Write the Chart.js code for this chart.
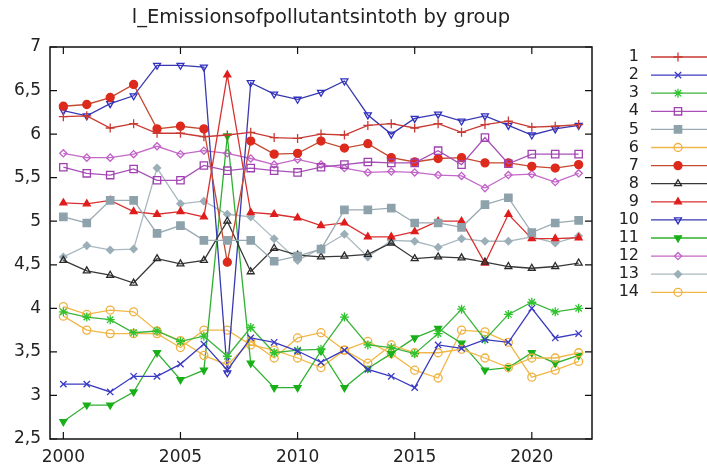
<!DOCTYPE html>
<html>
<head>
<meta charset="utf-8">
<script src="https://cdn.jsdelivr.net/npm/chart.js@4/dist/chart.umd.min.js"></script>
<style>
  html, body { margin: 0; padding: 0; background: #ffffff; }
  #wrap { width: 707px; height: 466px; }
</style>
</head>
<body>
<div id="wrap"><canvas id="c" width="707" height="466"></canvas></div>
<script>
// Years on the x axis
const years = [2000,2001,2002,2003,2004,2005,2006,2007,2008,2009,2010,2011,2012,2013,2014,2015,2016,2017,2018,2019,2020,2021,2022];
const groupNames = ['1','2','3','4','5','6','7','8','9','10','11','12','13','14'];
const xTickValues = [2000, 2005, 2010, 2015, 2020];
const yTickValues = [2.5, 3, 3.5, 4, 4.5, 5, 5.5, 6, 6.5, 7];

// Values per group, one per year
const g1  = [6.20,6.21,6.07,6.12,6.01,6.01,5.97,5.99,6.02,5.96,5.95,6.00,5.99,6.10,6.12,6.07,6.12,6.02,6.11,6.15,6.08,6.09,6.11];
const g2  = [3.13,3.13,3.04,3.22,3.22,3.36,3.59,3.29,3.66,3.61,3.51,3.38,3.52,3.30,3.22,3.09,3.58,3.54,3.64,3.61,4.00,3.66,3.71];
const g3  = [3.96,3.90,3.87,3.72,3.74,3.62,3.68,3.45,3.78,3.49,3.52,3.53,3.90,3.58,3.55,3.48,3.71,3.99,3.64,3.93,4.07,3.96,4.00];
const g4  = [5.62,5.55,5.53,5.60,5.47,5.47,5.64,5.58,5.61,5.58,5.56,5.62,5.65,5.68,5.67,5.67,5.81,5.65,5.96,5.66,5.77,5.77,5.77];
const g5  = [5.05,4.98,5.24,5.24,4.86,4.95,4.78,4.78,4.78,4.54,4.60,4.68,5.13,5.13,5.15,4.98,4.98,4.93,5.19,5.27,4.87,4.98,5.01];
const g6  = [4.02,3.93,3.98,3.96,3.74,3.63,3.46,3.35,3.62,3.43,3.66,3.72,3.52,3.37,3.58,3.49,3.49,3.53,3.43,3.32,3.43,3.43,3.49];
const g7  = [6.32,6.34,6.42,6.57,6.06,6.09,6.06,4.53,5.92,5.77,5.78,5.92,5.84,5.89,5.73,5.68,5.72,5.73,5.67,5.67,5.63,5.61,5.65];
const g8  = [4.55,4.43,4.38,4.29,4.57,4.51,4.55,5.00,4.42,4.69,4.61,4.59,4.60,4.62,4.75,4.57,4.59,4.58,4.53,4.48,4.46,4.48,4.52];
const g9  = [5.21,5.20,5.24,5.11,5.08,5.11,5.05,6.68,5.10,5.08,5.04,4.95,4.98,4.82,4.82,4.88,5.00,5.00,4.52,5.08,4.80,4.80,4.81];
const g10 = [6.27,6.21,6.35,6.44,6.79,6.79,6.77,3.26,6.59,6.46,6.40,6.48,6.61,6.22,6.00,6.18,6.23,6.15,6.21,6.10,5.99,6.06,6.10];
const g11 = [2.70,2.89,2.89,3.04,3.49,3.18,3.29,5.98,3.37,3.09,3.09,3.51,3.09,3.31,3.48,3.66,3.77,3.60,3.29,3.32,3.49,3.37,3.46];
const g12 = [5.78,5.73,5.73,5.77,5.86,5.77,5.81,5.78,5.72,5.65,5.71,5.65,5.61,5.56,5.57,5.56,5.53,5.52,5.38,5.53,5.54,5.45,5.55];
const g13 = [4.59,4.72,4.67,4.68,5.61,5.20,5.23,5.08,5.05,4.80,4.55,4.69,4.85,4.59,4.78,4.77,4.70,4.80,4.77,4.77,4.82,4.75,4.83];
const g14 = [3.91,3.75,3.71,3.71,3.71,3.55,3.75,3.75,3.58,3.52,3.43,3.32,3.52,3.62,3.48,3.29,3.20,3.75,3.73,3.61,3.21,3.29,3.39];

const groupValues = [g1,g2,g3,g4,g5,g6,g7,g8,g9,g10,g11,g12,g13,g14];

// Line colour, marker colour, marker shape and fill per group
const styles = [
  { line: '#c83a32', mark: '#c83a32', shape: 'cross',    r: 4.5, fill: false, rot: 0 },
  { line: '#3a3ac0', mark: '#3a3ac8', shape: 'crossRot', r: 4.5, fill: false, rot: 0 },
  { line: '#3cb43c', mark: '#2ec42e', shape: 'star',     r: 4.5, fill: false, rot: 0 },
  { line: '#a850b8', mark: '#a040b0', shape: 'rect',     r: 5.2, fill: false, rot: 0 },
  { line: '#9aaab2', mark: '#8ea2ac', shape: 'rect',     r: 5.2, fill: true,  rot: 0 },
  { line: '#f0b848', mark: '#f0b040', shape: 'circle',   r: 4,   fill: false, rot: 0 },
  { line: '#c44a30', mark: '#dd2a1c', shape: 'circle',   r: 4,   fill: true,  rot: 0 },
  { line: '#383838', mark: '#2a2a2a', shape: 'triangle', r: 4,   fill: false, rot: 0 },
  { line: '#d83030', mark: '#e01c1c', shape: 'triangle', r: 4,   fill: true,  rot: 0 },
  { line: '#3838b0', mark: '#3030c0', shape: 'triangle', r: 4,   fill: false, rot: 180 },
  { line: '#30b030', mark: '#18b018', shape: 'triangle', r: 4,   fill: true,  rot: 180 },
  { line: '#c468c8', mark: '#c060c8', shape: 'rectRot',  r: 3.6, fill: false, rot: 0 },
  { line: '#a8b8c0', mark: '#9cafb8', shape: 'rectRot',  r: 3.6, fill: true,  rot: 0 },
  { line: '#f0b848', mark: '#f0b040', shape: 'circle',   r: 4,   fill: false, rot: 0 }
];

const datasets = groupNames.map((name, i) => {
  const st = styles[i];
  return {
    label: name,
    data: years.map((yr, k) => ({ x: yr, y: groupValues[i][k] })),
    borderColor: st.line,
    borderWidth: 1.3,
    pointStyle: st.shape,
    pointRadius: st.r,
    pointRotation: st.rot,
    pointBorderColor: st.mark,
    pointBorderWidth: 1.3,
    pointBackgroundColor: st.fill ? st.mark : 'rgba(0,0,0,0)',
    tension: 0,
    fill: false
  };
});

const FONT = 'DejaVu Sans';

// Box around the plot with inward tick marks on all four sides
const framePlugin = {
  id: 'frame',
  afterDatasetsDraw(chart) {
    const { ctx, chartArea: a, scales } = chart;
    ctx.save();
    ctx.strokeStyle = '#111';
    ctx.lineWidth = 1.5;
    ctx.strokeRect(a.left, a.top, a.right - a.left, a.bottom - a.top);
    ctx.lineWidth = 1.2;
    const len = 7;
    ctx.beginPath();
    xTickValues.forEach(v => {
      const px = scales.x.getPixelForValue(v);
      ctx.moveTo(px, a.bottom); ctx.lineTo(px, a.bottom - len);
      ctx.moveTo(px, a.top);    ctx.lineTo(px, a.top + len);
    });
    yTickValues.forEach(v => {
      const py = scales.y.getPixelForValue(v);
      ctx.moveTo(a.left, py);  ctx.lineTo(a.left + len, py);
      ctx.moveTo(a.right, py); ctx.lineTo(a.right - len, py);
    });
    ctx.stroke();
    ctx.restore();
  }
};

// Key on the right: number, then a line sample with the marker in its middle
const keyPlugin = {
  id: 'sideKey',
  afterDraw(chart) {
    const { ctx } = chart;
    ctx.save();
    chart.data.datasets.forEach((ds, i) => {
      const y = 57 + i * 18.1;
      ctx.fillStyle = '#222';
      ctx.font = '16px "' + FONT + '"';
      ctx.textAlign = 'right';
      ctx.textBaseline = 'middle';
      ctx.fillText(ds.label, 639, y);
      ctx.strokeStyle = ds.borderColor;
      ctx.lineWidth = 1.3;
      ctx.beginPath();
      ctx.moveTo(651, y); ctx.lineTo(707, y);
      ctx.stroke();
      ctx.strokeStyle = ds.pointBorderColor;
      ctx.fillStyle = ds.pointBackgroundColor;
      ctx.lineWidth = ds.pointBorderWidth;
      Chart.helpers.drawPoint(ctx, {
        pointStyle: ds.pointStyle,
        radius: ds.pointRadius,
        rotation: ds.pointRotation,
        borderWidth: ds.pointBorderWidth
      }, 678, y);
    });
    ctx.restore();
  }
};

new Chart(document.getElementById('c'), {
  type: 'line',
  data: { datasets },
  plugins: [framePlugin, keyPlugin],
  options: {
    responsive: false,
    animation: false,
    devicePixelRatio: 1,
    layout: { padding: { left: 0, right: 115, top: 0, bottom: 0 } },
    plugins: {
      legend: { display: false },
      tooltip: { enabled: false },
      title: {
        display: true,
        fullSize: false,
        text: 'l_Emissionsofpollutantsintoth by group',
        color: '#222',
        font: { family: FONT, size: 19.5, weight: 'normal' },
        padding: { top: 6, bottom: 17.6 }
      }
    },
    scales: {
      x: {
        type: 'linear',
        min: 1999.43,
        max: 2022.57,
        afterBuildTicks(scale) { scale.ticks = xTickValues.map(v => ({ value: v })); },
        afterFit(scale) { scale.height = 27; },
        grid: { display: false, drawTicks: false },
        border: { display: false },
        ticks: {
          color: '#222',
          font: { family: FONT, size: 17 },
          padding: 8,
          maxRotation: 0,
          callback: v => String(v)
        }
      },
      y: {
        type: 'linear',
        min: 2.5,
        max: 7,
        afterBuildTicks(scale) { scale.ticks = yTickValues.map(v => ({ value: v })); },
        afterFit(scale) { scale.width = 50; },
        grid: { display: false, drawTicks: false },
        border: { display: false },
        ticks: {
          color: '#222',
          font: { family: FONT, size: 17 },
          padding: 9,
          callback: v => String(v).replace('.', ',')
        }
      }
    }
  }
});
</script>
</body>
</html>
